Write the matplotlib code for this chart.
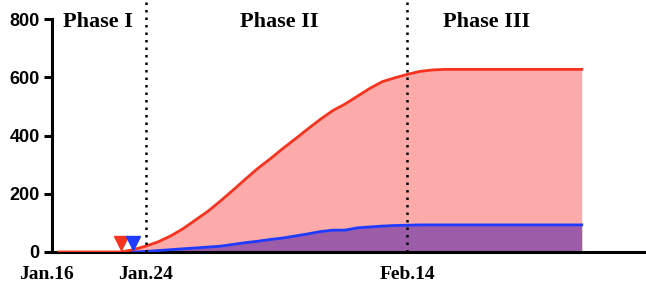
import matplotlib
matplotlib.use("Agg")
from matplotlib import pyplot as plt

# ------------------------------
# Data (day 0 = Jan.16)
# ------------------------------
red_days = list(range(1, 44))
red_vals = [0, 0, 0, 0, 0, 0, 8, 20, 35, 55, 80, 110, 140,
            175, 212, 250, 287, 320, 355, 388, 422, 455, 485, 508, 535,
            562, 585, 598, 610, 620, 625, 627, 627, 627, 627, 627, 627,
            627, 627, 627, 627, 627, 627]
blue_days = list(range(7, 44))
blue_vals = [0, 2, 5, 8, 11, 14, 17, 20, 26, 32, 37, 43, 48, 55, 62, 70,
             75, 75, 83, 86, 89, 91, 92, 93, 93, 93, 93, 93, 93, 93, 93,
             93, 93, 93, 93, 93, 93]

arrow_days = [6, 7]
arrow_colors = ['#f5331f', '#1f3bff']
phase_lines = [8, 29]
phase_labels = ['Phase I', 'Phase II', 'Phase III']
phase_centers = [4.2, 18.75, 35.4]
tick_days = [0, 8, 29]
tick_labels = ['Jan.16', 'Jan.24', 'Feb.14']
yticks = [0, 200, 400, 600, 800]

# ------------------------------
# Figure
# ------------------------------
fig = plt.figure(figsize=(6.46, 2.87), dpi=100)
ax = fig.add_axes([46 / 646, 35 / 287, 598 / 646, 233 / 287])

red = '#f5331f'
blue = '#1f3bff'
ax.fill_between(red_days, red_vals, color='#fdaaaa', lw=0, zorder=1)
ax.fill_between(blue_days, blue_vals, color='#9c5ca8', lw=0, zorder=2)
ax.plot(red_days, red_vals, color=red, lw=2, zorder=4)
ax.plot(blue_days, blue_vals, color=blue, lw=2, zorder=3)

for d, c in zip(arrow_days, arrow_colors):
    ax.plot(d, 30, marker='v', color=c, markersize=10, zorder=5, clip_on=False)

for d in phase_lines:
    ax.plot([d, d], [0, 870], color='black', ls=(0, (1, 2)), lw=1.8, zorder=6, clip_on=False)

for name, cx in zip(phase_labels, phase_centers):
    ax.text(cx, 774, name, ha='center', va='baseline', fontsize=16,
            family='Liberation Serif', fontweight='bold')

ax.set_xlim(0, 48)
ax.set_ylim(0, 800)
ax.spines['top'].set_visible(False)
ax.spines['right'].set_visible(False)
ax.spines['left'].set_position(('data', 0.5))
ax.spines['bottom'].set_bounds(0.5, 48)
for s in ['left', 'bottom']:
    ax.spines[s].set_linewidth(2.2)

ax.set_yticks(yticks)
ax.set_yticklabels([str(v) for v in yticks], family='Liberation Sans',
                   fontweight='bold', fontsize=13)
ax.tick_params(axis='y', width=2.2, length=6, pad=3)

ax.set_xticks(tick_days)
ax.set_xticklabels(tick_labels, family='Liberation Serif', fontweight='bold', fontsize=14)
ax.tick_params(axis='x', length=0, pad=10)

fig.savefig('out.png', dpi=100)
